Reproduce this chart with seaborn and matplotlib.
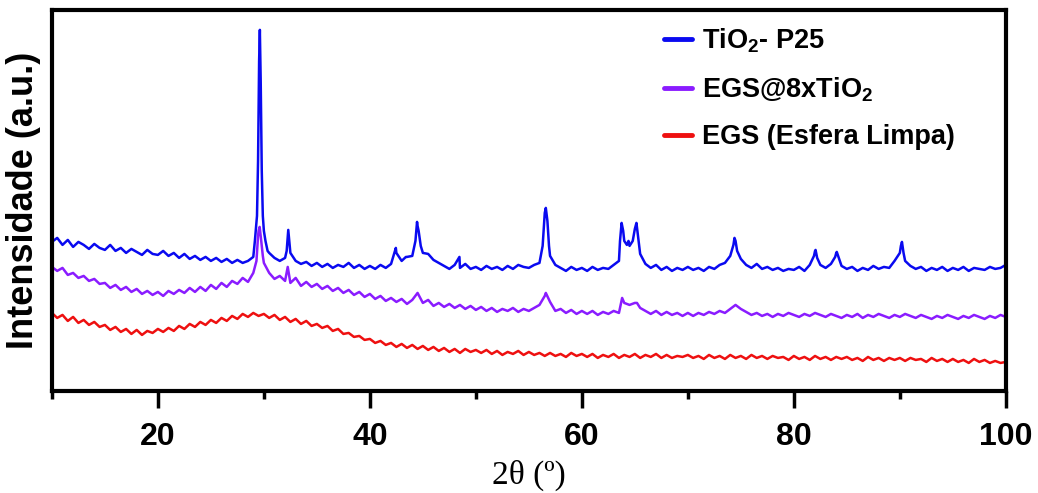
import numpy as np
import pandas as pd
import matplotlib
matplotlib.use("Agg")
import matplotlib.pyplot as plt
import seaborn as sns

# 2theta grid read at 0.5 deg steps (10 ... 100)
two_theta = np.arange(10, 100.01, 0.5)

# intensities (arbitrary units, offset stacked)
tio2_p25 = [
    149, 153, 146, 151, 144, 149, 146, 142, 147, 143,
    141, 146, 140, 143, 138, 142, 139, 136, 141, 137,
    136, 140, 135, 138, 133, 137, 132, 135, 131, 134,
    130, 133, 129, 132, 128, 131, 128, 130, 134, 280,
    160, 138, 133, 130, 133, 138, 130, 127, 129, 125,
    128, 124, 127, 123, 126, 124, 128, 123, 126, 122,
    125, 122, 126, 123, 127, 138, 130, 134, 135, 165,
    138, 137, 131, 128, 125, 122, 126, 123, 127, 122,
    124, 121, 125, 122, 124, 121, 125, 122, 126, 124,
    123, 126, 128, 178, 135, 126, 123, 120, 124, 121,
    123, 120, 124, 121, 123, 122, 126, 130, 150, 145,
    162, 137, 127, 123, 126, 121, 124, 120, 123, 121,
    124, 121, 123, 120, 124, 122, 126, 128, 135, 150,
    132, 126, 123, 127, 122, 124, 121, 123, 120, 122,
    121, 124, 120, 126, 140, 126, 123, 127, 138, 125,
    122, 124, 120, 123, 121, 125, 122, 124, 123, 130,
    138, 130, 125, 122, 124, 120, 123, 121, 124, 120,
    123, 121, 124, 120, 123, 122, 121, 124, 122, 123,
    126,
]
egs_tio2 = [
    124, 120, 123, 116, 118, 113, 115, 110, 112, 107,
    108, 103, 106, 101, 104, 99, 102, 97, 100, 96,
    99, 95, 100, 97, 101, 98, 103, 99, 104, 100,
    106, 102, 108, 104, 110, 107, 113, 109, 118, 160,
    128, 118, 112, 115, 110, 108, 113, 105, 109, 104,
    107, 102, 105, 100, 103, 98, 101, 96, 99, 94,
    97, 92, 95, 90, 93, 89, 92, 87, 91, 98,
    88, 91, 85, 88, 84, 87, 83, 86, 82, 85,
    81, 84, 80, 83, 79, 82, 80, 83, 79, 82,
    80, 83, 86, 95, 89, 80, 82, 78, 81, 77,
    80, 77, 80, 76, 79, 77, 80, 78, 88, 86,
    88, 83, 80, 77, 80, 76, 79, 76, 78, 75,
    78, 75, 78, 76, 79, 77, 80, 78, 82, 86,
    82, 79, 76, 78, 75, 77, 74, 77, 75, 78,
    76, 74, 77, 75, 78, 76, 74, 77, 75, 73,
    76, 74, 77, 73, 76, 74, 77, 75, 73, 76,
    74, 77, 75, 73, 76, 74, 72, 75, 73, 76,
    74, 72, 75, 73, 76, 74, 72, 75, 73, 76,
    74,
]
egs_limpa = [
    78, 73, 76, 70, 74, 68, 71, 66, 69, 64,
    66, 61, 64, 59, 62, 57, 61, 56, 60, 58,
    62, 59, 63, 60, 65, 62, 67, 64, 69, 66,
    71, 68, 73, 70, 75, 72, 77, 74, 78, 75,
    77, 73, 76, 71, 74, 69, 72, 67, 70, 65,
    67, 63, 65, 60, 62, 57, 58, 54, 55, 51,
    52, 48, 50, 46, 48, 44, 47, 43, 46, 42,
    45, 41, 44, 40, 43, 39, 42, 38, 42, 39,
    41, 38, 41, 37, 40, 36, 39, 37, 40, 36,
    39, 36, 38, 35, 38, 35, 37, 34, 38, 35,
    37, 34, 37, 33, 36, 34, 37, 33, 36, 34,
    37, 33, 36, 34, 37, 33, 36, 33, 35, 34,
    36, 33, 35, 32, 36, 33, 35, 32, 36, 33,
    35, 32, 36, 33, 35, 32, 35, 33, 34, 31,
    35, 32, 34, 31, 35, 32, 34, 31, 34, 32,
    34, 31, 33, 30, 34, 31, 33, 30, 33, 31,
    33, 30, 33, 31, 32, 29, 33, 30, 32, 29,
    32, 29, 31, 28, 32, 29, 31, 28, 30, 28,
    29,
]

# extra points read on the sharp reflections (2theta, intensity)
tio2_peaks = [
    (29.15, 150), (29.35, 175), (29.45, 230), (29.55, 330), (29.62, 361),
    (29.7, 310), (29.8, 220), (29.9, 175), (30.15, 150), (30.35, 140),
    (32.15, 140), (32.3, 161), (32.4, 150),
    (42.45, 143), (43.4, 134),
    (44.3, 150), (44.45, 169), (44.6, 160), (44.8, 145),
    (48.45, 134),
    (56.3, 145), (56.45, 170), (56.6, 183), (56.75, 170), (56.9, 145),
    (63.6, 150), (63.75, 168), (63.9, 160), (64.25, 146), (64.4, 150),
    (64.8, 150), (65.15, 168), (65.3, 155),
    (74.3, 146), (74.4, 153), (74.65, 140),
    (81.9, 135), (82.05, 141), (82.2, 133),
    (83.9, 134), (84.05, 139),
    (90.1, 145), (90.2, 149), (90.35, 138),
]
egs_tio2_peaks = [
    (29.3, 130), (29.45, 155), (29.6, 164), (29.75, 150), (29.9, 135),
    (32.25, 124), (56.6, 98), (63.8, 93), (65.2, 88),
]

labels = ["TiO$_\\mathbf{2}$- P25", "EGS@8xTiO$_\\mathbf{2}$", "EGS (Esfera Limpa)"]
colors = ["#0a0af0", "#8a1cff", "#ee1010"]


def build(values, peaks, name):
    df = pd.DataFrame({"theta": two_theta, "I": values})
    if peaks:
        df = pd.concat([df, pd.DataFrame(peaks, columns=["theta", "I"])])
    df = df.sort_values("theta").reset_index(drop=True)
    df["amostra"] = name
    return df


data = pd.concat([
    build(tio2_p25, tio2_peaks, labels[0]),
    build(egs_tio2, egs_tio2_peaks, labels[1]),
    build(egs_limpa, [], labels[2]),
], ignore_index=True)

sns.set_style("ticks", {"axes.edgecolor": "black", "xtick.color": "black",
                        "text.color": "black", "axes.labelcolor": "black"})
plt.rcParams["font.family"] = ["Liberation Sans", "DejaVu Sans"]
plt.rcParams["mathtext.fontset"] = "custom"
plt.rcParams["mathtext.bf"] = "Liberation Sans:bold"
plt.rcParams["mathtext.rm"] = "Liberation Sans"

fig = plt.figure(figsize=(10.38, 4.93), dpi=100)
ax = fig.add_axes([0.050, 0.207, 0.919, 0.773])

sns.lineplot(data=data, x="theta", y="I", hue="amostra", palette=colors,
             hue_order=labels, sort=False, estimator=None, linewidth=1.8, ax=ax)

ax.set_xlim(10, 100)
ax.set_ylim(0, 381)
ax.set_yticks([])
ax.set_xticks([20, 40, 60, 80, 100])
ax.set_xticks([10, 30, 50, 70, 90], minor=True)
ax.tick_params(axis="x", which="major", length=12, width=2.5, labelsize=23, pad=10,
               color="black", labelcolor="black")
ax.tick_params(axis="x", which="minor", length=6, width=2.5, color="black")
for lab in ax.get_xticklabels():
    lab.set_fontweight("bold")
for sp in ax.spines.values():
    sp.set_linewidth(3)
    sp.set_color("black")

ax.set_xlabel("2θ (º)", fontsize=24, family=["Liberation Serif", "DejaVu Serif"], labelpad=6)
ax.set_ylabel("Intensidade (a.u.)", fontsize=26, fontweight="bold", labelpad=8)

leg = ax.legend(loc="upper left", bbox_to_anchor=(0.630, 0.985), frameon=False,
                handlelength=1.05, handletextpad=0.35, labelspacing=0.75, borderaxespad=0,
                prop={"size": 19.5, "weight": "bold"})
for h in leg.get_lines():
    h.set_linewidth(3.5)

fig.savefig("out.png", dpi=100)
